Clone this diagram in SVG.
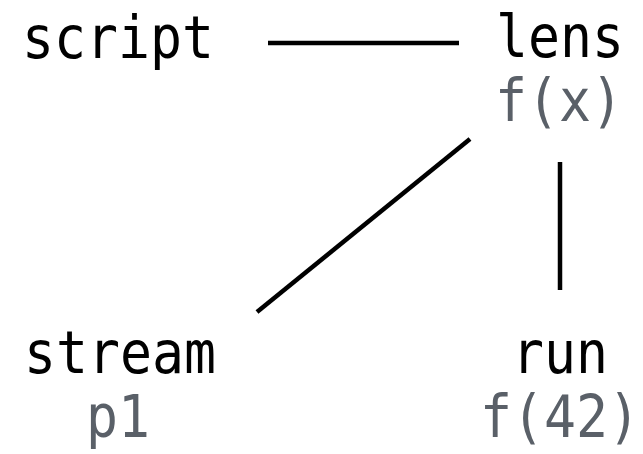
<svg xmlns="http://www.w3.org/2000/svg" width="643" height="454" viewBox="0 0 643 454">
<style>
.t{font-family:"DejaVu Sans Mono","Liberation Mono",monospace;font-size:58px;text-anchor:middle}
.n{fill:#000}
.s{fill:#5a6068}
.e{stroke:#000;stroke-width:4.5;fill:none}
</style>
<rect width="643" height="454" fill="#fff"/>
<g id="edges">
<line class="e" x1="268" y1="43" x2="459" y2="43"/>
<line class="e" x1="470" y1="139" x2="257" y2="312"/>
<line class="e" x1="560" y1="162" x2="560" y2="290"/>
</g>
<g id="script"><text class="t n" x="118" y="58" textLength="192" lengthAdjust="spacingAndGlyphs">script</text></g>
<g id="lens"><text class="t n" x="560" y="57" textLength="128" lengthAdjust="spacingAndGlyphs">lens</text><text class="t s" x="559" y="121" textLength="128" lengthAdjust="spacingAndGlyphs">f(x)</text></g>
<g id="stream"><text class="t n" x="120" y="373" textLength="192" lengthAdjust="spacingAndGlyphs">stream</text><text class="t s" x="118" y="437" textLength="64" lengthAdjust="spacingAndGlyphs">p1</text></g>
<g id="run"><text class="t n" x="560" y="373" textLength="96" lengthAdjust="spacingAndGlyphs">run</text><text class="t s" x="560" y="437" textLength="160" lengthAdjust="spacingAndGlyphs">f(42)</text></g>
</svg>
